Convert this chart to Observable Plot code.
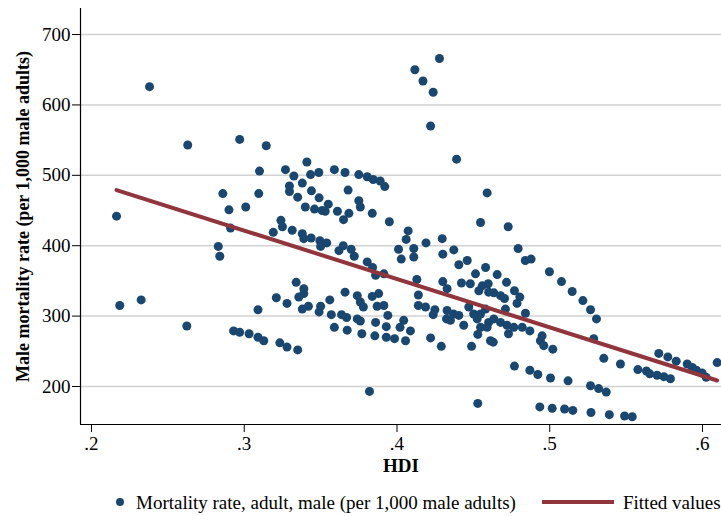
<!DOCTYPE html>
<html>
<head>
<meta charset="utf-8">
<script src="https://cdn.jsdelivr.net/npm/d3@7"></script>
<script src="https://cdn.jsdelivr.net/npm/@observablehq/plot@0.6"></script>
<style>
  html, body { margin: 0; padding: 0; background: #fff; }
  #wrap { position: relative; width: 721px; height: 516px; overflow: hidden; font-family: 'Liberation Serif', 'Times New Roman', serif; }
  #legend { position: absolute; left: 0; top: 491px; width: 900px; height: 24px; font-size: 19px; color: #000; white-space: nowrap; }
  #legend .dot { position: absolute; left: 116px; top: 7px; width: 8px; height: 8px; border-radius: 50%; background: #1a476f; }
  #legend .t1 { position: absolute; left: 136px; top: 0px; line-height: 24px; }
  #legend .ln { position: absolute; left: 542px; top: 9px; width: 72px; height: 4px; background: #90353b; }
  #legend .t2 { position: absolute; left: 623px; top: 0px; line-height: 24px; }
</style>
</head>
<body>
<div id="wrap">
  <div id="chart"></div>
  <div id="legend">
    <span class="dot"></span><span class="t1">Mortality rate, adult, male (per 1,000 male adults)</span>
    <span class="ln"></span><span class="t2">Fitted values</span>
  </div>
</div>
<script>
// HDI values (x) and male adult mortality rate (y)
const hdi = [
  .238,.263,.297,.310,.286,.3095,.290,.301,.2164,.291,
  .283,.284,.2185,.2325,.309,.2624,.293,.297,.3032,.309,
  .3144,.341,.327,.3325,.3434,.3488,.359,.366,.375,.3805,
  .3844,.389,.392,.338,.3296,.3296,.344,.335,.368,.349,
  .355,.340,.346,.351,.353,.361,.3685,.365,.375,.376,
  .3838,.395,.324,.325,.319,.3314,.338,.339,.3438,.3495,
  .350,.354,.362,.3648,.370,.372,.3805,.401,.384,.386,
  .3914,.334,.339,.339,.3357,.321,.328,.338,.342,.350,
  .349,.356,.366,.374,.376,.378,.3838,.388,.387,.3914,
  .394,.357,.3637,.367,.374,.376,.359,.3674,.377,.386,
  .3855,.393,.393,.3984,.402,.3128,.3233,.328,.335,.382,
  .4278,.4117,.417,.4237,.422,.439,.4547,.4073,.406,.419,
  .4296,.411,.4372,.430,.4028,.411,.446,.4405,.4514,.458,
  .413,.430,.4422,.448,.4558,.4328,.414,.4536,.4597,.414,
  .4187,.4248,.4328,.437,.4405,.4324,.435,.4237,.4437,.447,
  .4502,.4525,.4547,.4529,.460,.4612,.422,.429,.4488,.4044,
  .4088,.4056,.4529,.4728,.4793,.484,.4878,.4998,.5077,.5147,
  .4656,.4717,.4769,.460,.4634,.4678,.4704,.4804,.4786,.471,
  .4841,.458,.4547,.4634,.459,.4678,.472,.4765,.482,.487,
  .473,.463,.495,.4939,.4961,.502,.4769,.487,.4922,.5005,
  .512,.4935,.5016,.5097,.5217,.5267,.5306,.5288,.5354,.5463,
  .5267,.532,.537,.5577,.5633,.5655,.5703,.5747,.579,.5714,
  .5773,.5828,.59,.5933,.596,.5998,.6024,.6096,.5151,.527,
  .539,.549,.554,.459
];
const mortality = [
  626,543,551,506,474,474,451,455,442,425,
  399,385,315,323,309,286,279,277,275,270,
  542,519,508,499,501,504,508,504,501,498,
  494,492,484,489,485,477,478,469,479,468,
  459,455,452,450,449,449,446,437,464,455,
  446,434,436,427,419,422,417,410,411,407,
  399,404,393,400,395,385,377,395,369,358,
  360,348,339,332,327,326,318,310,314,314,
  306,323,334,329,320,313,328,332,314,315,
  301,302,302,298,296,293,284,280,275,291,
  272,285,270,268,284,265,262,256,252,193,
  666,650,634,618,570,523,433,421,409,404,
  410,396,394,388,381,384,379,373,360,369,
  352,349,347,346,343,339,330,336,346,315,
  313,309,308,303,301,296,294,302,287,313,
  303,296,284,274,291,265,269,257,257,294,
  279,265,176,427,396,379,381,363,349,335,
  359,348,336,334,333,329,325,327,318,310,
  304,310,303,296,284,291,287,284,284,279,
  275,263,272,265,258,253,229,223,217,212,
  208,171,169,168,322,309,296,268,240,232,
  201,197,192,224,222,218,216,214,211,247,
  242,236,232,227,223,219,213,234,166,163,
  160,158,157,475
];
// Fitted values line (endpoints of the fitted straight line)
const fitHdi = [0.2164, 0.6096];
const fitValue = [479, 208.5];

// Axis tick values
const xTicks = [0.2, 0.3, 0.4, 0.5, 0.6];
const yTicks = [200, 300, 400, 500, 600, 700];

const points = hdi.map((h, i) => ({hdi: h, mortality: mortality[i]}));
const fit = fitHdi.map((h, i) => ({hdi: h, value: fitValue[i]}));

const xDomain = [0.1928, 0.61245];
const yDomain = [146, 737];

const navy = "#1a476f";
const maroon = "#90353b";

const chart = Plot.plot({
  width: 721,
  height: 491,
  marginLeft: 80,
  marginRight: 0,
  marginTop: 8,
  marginBottom: 67,
  style: {fontFamily: "'Liberation Serif', 'Times New Roman', serif", fontSize: "19px", color: "#000", background: "#fff"},
  x: {domain: xDomain},
  y: {domain: yDomain},
  marks: [
    Plot.gridY(yTicks, {stroke: "#d2d2d2", strokeOpacity: 1, strokeWidth: 1.5}),
    Plot.ruleX([xDomain[0]], {stroke: "#000", strokeWidth: 1.2}),
    Plot.ruleY([yDomain[0]], {stroke: "#000", strokeWidth: 1.2}),
    Plot.axisY(yTicks, {tickSize: 8, tickPadding: 2, label: null, tickFormat: d => String(d)}),
    Plot.axisX(xTicks, {tickSize: 8, tickPadding: 4, label: null, tickFormat: d => d3.format(".1f")(d).replace(/^0/, "")}),
    Plot.dot(points, {x: "hdi", y: "mortality", r: 4.5, fill: navy, stroke: "none"}),
    Plot.line(fit, {x: "hdi", y: "value", stroke: maroon, strokeWidth: 4}),
    Plot.text(["HDI"], {frameAnchor: "bottom", dy: 47, fontWeight: "bold", fontSize: 19}),
    Plot.text(["Male mortality rate (per 1,000 male adults)"], {frameAnchor: "left", dx: -57, rotate: -90, textAnchor: "middle", fontWeight: "bold", fontSize: 18})
  ]
});
document.getElementById("chart").appendChild(chart);
</script>
</body>
</html>
